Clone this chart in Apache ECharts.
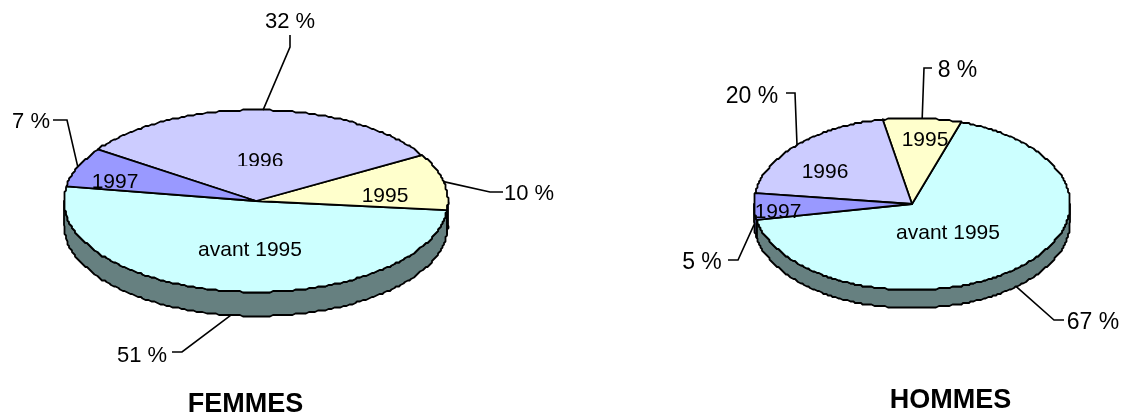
<!DOCTYPE html>
<html><head><meta charset="utf-8">
<script src="https://cdn.jsdelivr.net/npm/echarts@6/dist/echarts.min.js"></script>
<style>html,body{margin:0;padding:0;background:#fff}#c{width:1125px;height:416px}</style>
</head><body><div id="c"></div>
<script>
// Data
const categories = ['avant 1995', '1995', '1996', '1997'];
const femmesValues = [51, 10, 32, 7];
const hommesValues = [67, 8, 20, 5];
const percentLabels = v => v + ' %';

// Styles and layout
const colors = ['#CCFFFF', '#FFFFCC', '#CCCCFF', '#9999FF'];
const wallColors = ['#668080', '#808066', '#666680', '#4D4D80'];
const FONT = '"Liberation Sans", Arial, sans-serif';
const pies = [
  { title: 'FEMMES', titlePos: [245.5, 404.5], values: femmesValues, pctSize: 22,
    cx: 256, cy: 201, rx: 192, ry: 91, depth: 24, startDeg: 170.7,
    catPos: [[250, 250], [385, 196], [260, 161.5], [115, 182]],
    leaders: [[[182, 352], [172, 352]], [[490, 192], [503, 192]], [[290, 47], [290, 35]], [[67, 120], [53, 120]]],
    pctPos: [[142, 356], [529, 194], [290, 22], [31, 122]],
    clip: [232, 166, 58, 7] },
  { title: 'HOMMES', titlePos: [950.5, 400.5], values: hommesValues, pctSize: 23,
    cx: 912, cy: 204, rx: 158, ry: 86, depth: 18, startDeg: 190.7,
    catPos: [[948, 233], [925, 140], [825, 172], [778, 212]],
    leaders: [[[1054, 320], [1064, 320]], [[924, 68], [932, 68]], [[795, 93], [786, 93]], [[738, 260], [728, 260]]],
    pctPos: [[1093, 323], [957.5, 71], [752, 96.5], [702, 263]],
    clip: null }
];
const EDGE_STEP = 1.5;  // grid the outline snaps to: the reference's outline is slightly rough
const ARC_SAMPLE = 1;   // degrees between outline points

function pt(p, deg, dy) {
  const t = deg * Math.PI / 180;
  return [p.cx + p.rx * Math.cos(t), p.cy - p.ry * Math.sin(t) + (dy || 0)];
}
function snapped(p, deg, dy) {
  const q = pt(p, deg, 0);
  return [Math.round(q[0] / EDGE_STEP) * EDGE_STEP, Math.round(q[1] / EDGE_STEP) * EDGE_STEP + (dy || 0)];
}
// Outline points on a fixed angle grid, so that neighbouring shapes share the same edge.
function arc(p, a, b, dy) {
  const lo = Math.min(a, b), hi = Math.max(a, b);
  const out = [pt(p, lo, dy)];
  for (let d = Math.floor(lo / ARC_SAMPLE) * ARC_SAMPLE + ARC_SAMPLE; d < hi; d += ARC_SAMPLE) {
    out.push(snapped(p, d, dy));
  }
  out.push(pt(p, hi, dy));
  return a <= b ? out : out.reverse();
}
function wallRanges(a, b) {
  const res = [];
  for (const [lo, hi] of [[180, 360], [540, 720]]) {
    const s = Math.max(a, lo), e = Math.min(b, hi);
    if (e > s) res.push([s, e]);
  }
  return res;
}
const LINE = { stroke: '#000', lineWidth: 1.8, lineJoin: 'round' };

function makeRender(p) {
  const total = p.values.reduce((s, v) => s + v, 0);
  return function (params, api) {
    const i = params.dataIndex;
    const before = p.values.slice(0, i).reduce((s, v) => s + v, 0);
    const a = p.startDeg + before / total * 360;
    const b = a + api.value(0) / total * 360;
    const mid = (a + b) / 2;
    const children = [];
    for (const [s, e] of wallRanges(a, b)) {
      const pts = arc(p, s, e, 0).concat(arc(p, e, s, p.depth));
      children.push({ type: 'polygon', shape: { points: pts },
        style: Object.assign({ fill: wallColors[i] }, LINE) });
    }
    children.push({ type: 'polygon', shape: { points: [[p.cx, p.cy]].concat(arc(p, a, b, 0)) },
      style: Object.assign({ fill: colors[i] }, LINE) });
    // leader line from the slice's mid angle
    const norm = ((mid % 360) + 360) % 360;
    const start = pt(p, mid, norm > 180 ? p.depth : 0);
    children.push({ type: 'polyline', shape: { points: [start].concat(p.leaders[i]) },
      style: { stroke: '#000', lineWidth: 1.6, fill: null }, z2: 3 });
    children.push({ type: 'text', z2: 4, style: { text: categories[i], x: p.catPos[i][0], y: p.catPos[i][1],
      fill: '#000', font: '21px ' + FONT, textAlign: 'center', textVerticalAlign: 'middle' } });
    if (i === 2 && p.clip) {
      children.push({ type: 'rect', z2: 5, shape: { x: p.clip[0], y: p.clip[1], width: p.clip[2], height: p.clip[3] },
        style: { fill: colors[2] } });
    }
    children.push({ type: 'text', z2: 6, style: { text: percentLabels(api.value(0)), x: p.pctPos[i][0], y: p.pctPos[i][1],
      fill: '#000', font: p.pctSize + 'px ' + FONT, textAlign: 'center', textVerticalAlign: 'middle' } });
    return { type: 'group', children };
  };
}

const chart = echarts.init(document.getElementById('c'), null, { renderer: 'canvas' });
chart.setOption({
  backgroundColor: '#fff',
  animation: false,
  title: pies.map(p => ({ text: p.title, left: p.titlePos[0], top: p.titlePos[1], textAlign: 'center', textVerticalAlign: 'middle',
    textStyle: { fontFamily: FONT, fontWeight: 'bold', fontSize: 27, color: '#000' }, padding: 0 })),
  series: pies.map(p => ({
    type: 'custom', coordinateSystem: 'none', silent: true, clip: false,
    data: p.values.map((v, i) => ({ name: categories[i], value: [v] })),
    renderItem: makeRender(p)
  }))
});
</script></body></html>
